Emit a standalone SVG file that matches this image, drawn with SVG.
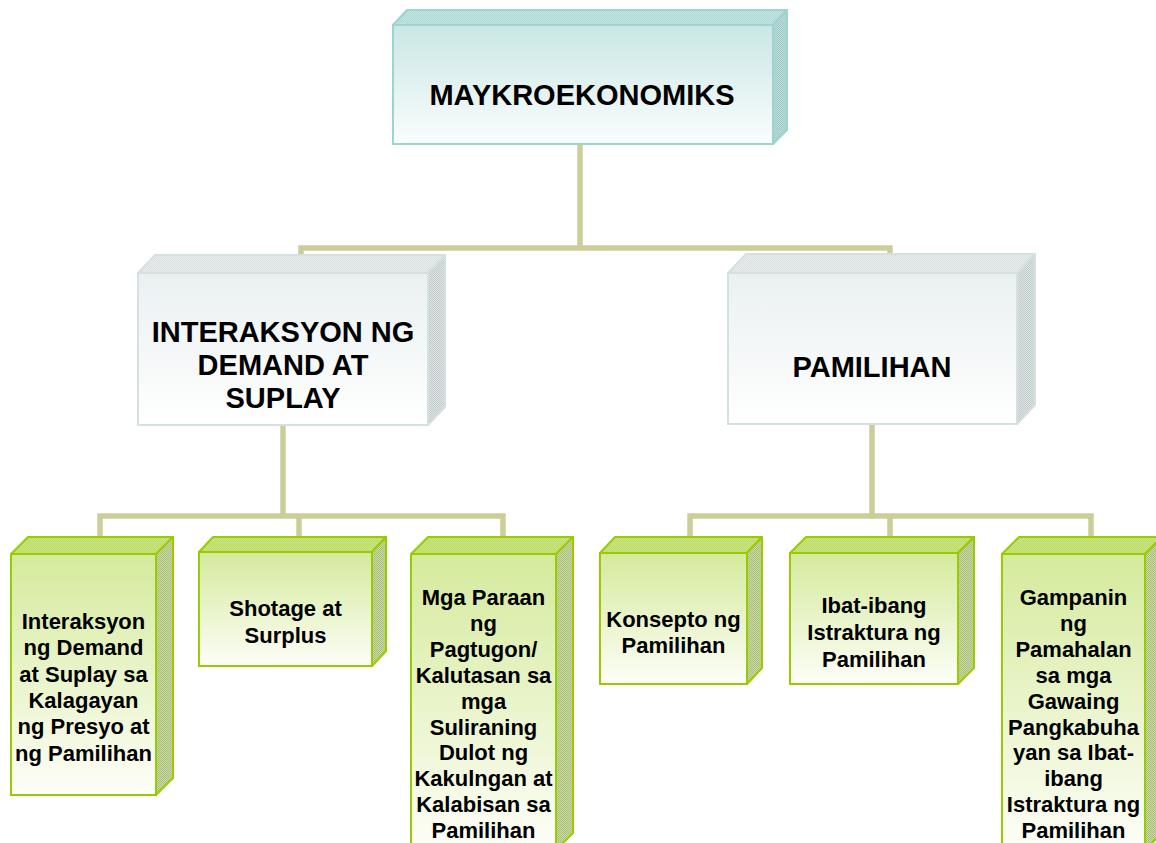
<svg xmlns="http://www.w3.org/2000/svg" width="1156" height="843" viewBox="0 0 1156 843">
<style>
.t{font-family:"Liberation Sans",Arial,sans-serif;font-weight:bold;fill:#000;text-anchor:middle}
.big{font-size:29px}
.sm{font-size:22px}
.conn{fill:none;stroke:#cdcd99;stroke-width:5.5;stroke-linejoin:miter}
.gF{fill:url(#gGreen);stroke:#99cc00;stroke-width:2}
.gT{fill:url(#pGreenTop);stroke:#99cc00;stroke-width:2;stroke-linejoin:round}
.gS{fill:url(#pGreenSide);stroke:#99cc00;stroke-width:2;stroke-linejoin:round}
.wF{fill:url(#gGray);stroke:#d5e0e0;stroke-width:2}
.wT{fill:url(#pGrayTop);stroke:#d5e0e0;stroke-width:2;stroke-linejoin:round}
.wS{fill:url(#pGraySide);stroke:#d5e0e0;stroke-width:2;stroke-linejoin:round}
.cF{fill:url(#gTeal);stroke:#9dd4cf;stroke-width:2}
.cT{fill:url(#pTealTop);stroke:#9dd4cf;stroke-width:2;stroke-linejoin:round}
.cS{fill:url(#pTealSide);stroke:#9dd4cf;stroke-width:2;stroke-linejoin:round}
</style>
<defs>
<linearGradient id="gGreen" x1="0" y1="0" x2="0" y2="1"><stop offset="0" stop-color="#d5ea9c"/><stop offset="1" stop-color="#fdfef8"/></linearGradient>
<linearGradient id="gGray" x1="0" y1="0" x2="0" y2="1"><stop offset="0" stop-color="#eaf0f0"/><stop offset="1" stop-color="#ffffff"/></linearGradient>
<linearGradient id="gTeal" x1="0" y1="0" x2="0" y2="1"><stop offset="0" stop-color="#c9e7e5"/><stop offset="1" stop-color="#fafdfd"/></linearGradient>
<pattern id="pGreenTop" width="2" height="2" patternUnits="userSpaceOnUse"><rect width="2" height="2" fill="#cbe67f"/><rect width="1" height="1" fill="#bcd96b"/><rect x="1" y="1" width="1" height="1" fill="#bcd96b"/></pattern>
<pattern id="pGreenSide" width="2" height="2" patternUnits="userSpaceOnUse"><rect width="2" height="2" fill="#cad9a4"/><rect width="1" height="1" fill="#a9bf7a"/><rect x="1" y="1" width="1" height="1" fill="#a9bf7a"/></pattern>
<pattern id="pGrayTop" width="2" height="2" patternUnits="userSpaceOnUse"><rect width="2" height="2" fill="#e8eeee"/><rect width="1" height="1" fill="#d8e0e0"/><rect x="1" y="1" width="1" height="1" fill="#d8e0e0"/></pattern>
<pattern id="pGraySide" width="2" height="2" patternUnits="userSpaceOnUse"><rect width="2" height="2" fill="#dde3e3"/><rect width="1" height="1" fill="#c3cccc"/><rect x="1" y="1" width="1" height="1" fill="#c3cccc"/></pattern>
<pattern id="pTealTop" width="2" height="2" patternUnits="userSpaceOnUse"><rect width="2" height="2" fill="#c3e4e1"/><rect width="1" height="1" fill="#b0d8d4"/><rect x="1" y="1" width="1" height="1" fill="#b0d8d4"/></pattern>
<pattern id="pTealSide" width="2" height="2" patternUnits="userSpaceOnUse"><rect width="2" height="2" fill="#bcdedb"/><rect width="1" height="1" fill="#9fc9c6"/><rect x="1" y="1" width="1" height="1" fill="#9fc9c6"/></pattern>
</defs>
<rect width="1156" height="843" fill="#ffffff"/>

<g id="connectors">
<path class="conn" d="M580,144 V248 M301,256 V248 H890 V255"/>
<path class="conn" d="M283,425 V516 M100,538 V516 H503 V538 M299,516 V538"/>
<path class="conn" d="M872,424 V516 M690,538 V516 H1091 V538 M890,516 V538"/>
</g>

<g id="node-maykro">
<polygon class="cT" points="393,25 407,10 787,10 773,25"/>
<polygon class="cS" points="773,25 787,10 787,130 773,144"/>
<rect class="cF" x="393" y="25" width="380" height="119"/>
<text class="t big" x="582" y="105">MAYKROEKONOMIKS</text>
</g>

<g id="node-interaksyon">
<polygon class="wT" points="138,273 155,255 445,255 428,273"/>
<polygon class="wS" points="428,273 445,255 445,407 428,425"/>
<rect class="wF" x="138" y="273" width="290" height="152"/>
<text class="t big" x="283" y="342">INTERAKSYON NG</text>
<text class="t big" x="283" y="375">DEMAND AT</text>
<text class="t big" x="283" y="408">SUPLAY</text>
</g>

<g id="node-pamilihan">
<polygon class="wT" points="728,273 746,254 1035,254 1017,273"/>
<polygon class="wS" points="1017,273 1035,254 1035,405 1017,424"/>
<rect class="wF" x="728" y="273" width="289" height="151"/>
<text class="t big" x="872" y="377">PAMILIHAN</text>
</g>

<g id="node-b1">
<polygon class="gT" points="11,554 28,537 173,537 156,554"/>
<polygon class="gS" points="156,554 173,537 173,778 156,795"/>
<rect class="gF" x="11" y="554" width="145" height="241"/>
<text class="t sm" x="83.5" y="629">Interaksyon</text>
<text class="t sm" x="83.5" y="655.3">ng Demand</text>
<text class="t sm" x="83.5" y="681.6">at Suplay sa</text>
<text class="t sm" x="83.5" y="707.9">Kalagayan</text>
<text class="t sm" x="83.5" y="734.2">ng Presyo at</text>
<text class="t sm" x="83.5" y="760.5">ng Pamilihan</text>
</g>

<g id="node-b2">
<polygon class="gT" points="199,552 213,537 386,537 372,552"/>
<polygon class="gS" points="372,552 386,537 386,651 372,666"/>
<rect class="gF" x="199" y="552" width="173" height="114"/>
<text class="t sm" x="285.5" y="616">Shotage at</text>
<text class="t sm" x="285.5" y="643">Surplus</text>
</g>

<g id="node-b3">
<polygon class="gT" points="411,554 428,537 573,537 556,554"/>
<polygon class="gS" points="556,554 573,537 573,833 556,850"/>
<rect class="gF" x="411" y="554" width="145" height="296"/>
<text class="t sm" x="483.5" y="605">Mga Paraan</text>
<text class="t sm" x="483.5" y="630.9">ng</text>
<text class="t sm" x="483.5" y="656.8">Pagtugon/</text>
<text class="t sm" x="483.5" y="682.7">Kalutasan sa</text>
<text class="t sm" x="483.5" y="708.6">mga</text>
<text class="t sm" x="483.5" y="734.5">Suliraning</text>
<text class="t sm" x="483.5" y="760.4">Dulot ng</text>
<text class="t sm" x="483.5" y="786.3">Kakulngan at</text>
<text class="t sm" x="483.5" y="812.2">Kalabisan sa</text>
<text class="t sm" x="483.5" y="838.1">Pamilihan</text>
</g>

<g id="node-b4">
<polygon class="gT" points="600,553 615,537 762,537 747,553"/>
<polygon class="gS" points="747,553 762,537 762,668 747,684"/>
<rect class="gF" x="600" y="553" width="147" height="131"/>
<text class="t sm" x="673.5" y="627">Konsepto ng</text>
<text class="t sm" x="673.5" y="653">Pamilihan</text>
</g>

<g id="node-b5">
<polygon class="gT" points="790,553 806,537 974,537 958,553"/>
<polygon class="gS" points="958,553 974,537 974,668 958,684"/>
<rect class="gF" x="790" y="553" width="168" height="131"/>
<text class="t sm" x="874" y="613">Ibat-ibang</text>
<text class="t sm" x="874" y="640">Istraktura ng</text>
<text class="t sm" x="874" y="667">Pamilihan</text>
</g>

<g id="node-b6">
<polygon class="gT" points="1002,554 1019,537 1162,537 1145,554"/>
<polygon class="gS" points="1145,554 1162,537 1162,833 1145,850"/>
<rect class="gF" x="1002" y="554" width="143" height="296"/>
<text class="t sm" x="1073.5" y="605">Gampanin</text>
<text class="t sm" x="1073.5" y="630.9">ng</text>
<text class="t sm" x="1073.5" y="656.8">Pamahalan</text>
<text class="t sm" x="1073.5" y="682.7">sa mga</text>
<text class="t sm" x="1073.5" y="708.6">Gawaing</text>
<text class="t sm" x="1073.5" y="734.5">Pangkabuha</text>
<text class="t sm" x="1073.5" y="760.4">yan sa Ibat-</text>
<text class="t sm" x="1073.5" y="786.3">ibang</text>
<text class="t sm" x="1073.5" y="812.2">Istraktura ng</text>
<text class="t sm" x="1073.5" y="838.1">Pamilihan</text>
</g>
</svg>
